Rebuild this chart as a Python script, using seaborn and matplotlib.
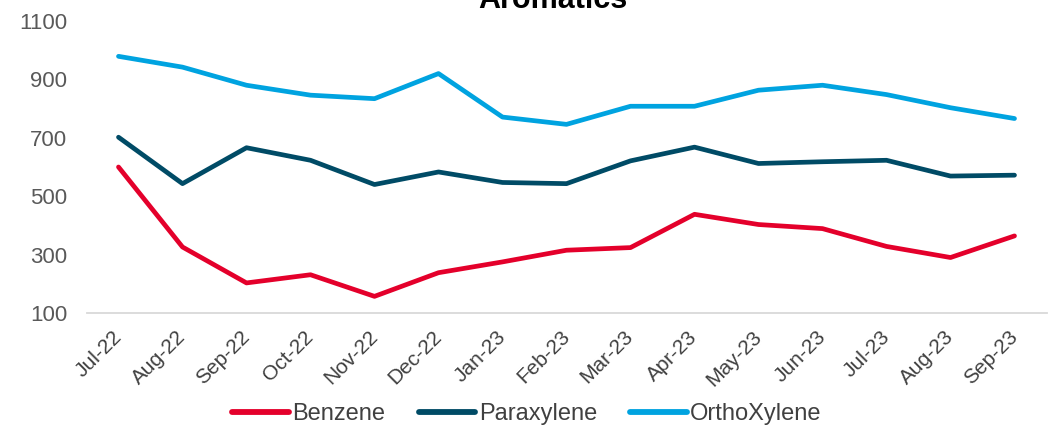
import matplotlib
matplotlib.use("Agg")
import matplotlib.pyplot as plt
import seaborn as sns
import pandas as pd
import numpy as np

months = ["Jul-22", "Aug-22", "Sep-22", "Oct-22", "Nov-22", "Dec-22", "Jan-23",
          "Feb-23", "Mar-23", "Apr-23", "May-23", "Jun-23", "Jul-23", "Aug-23", "Sep-23"]
benzene = [600, 326, 203, 231, 157, 238, 275, 315, 324, 438, 403, 389, 328, 290, 364]
paraxylene = [702, 543, 666, 623, 540, 583, 547, 543, 621, 668, 612, 618, 623, 569, 572]
orthoxylene = [979, 942, 880, 846, 834, 920, 771, 746, 808, 808, 863, 880, 848, 803, 766]
series_names = ["Benzene", "Paraxylene", "OrthoXylene"]
colors = ["#E4002B", "#004B66", "#00A3E0"]

rows = []
for name, vals in zip(series_names, [benzene, paraxylene, orthoxylene]):
    for i, v in enumerate(vals):
        rows.append({"idx": i, "value": v, "series": name})
df = pd.DataFrame(rows)

sns.set_theme(style="white")
plt.rcParams["font.family"] = ["Liberation Sans", "DejaVu Sans"]

fig = plt.figure(figsize=(10.48, 4.28), dpi=100)
ax = fig.add_axes([86.5 / 1048, 1 - 313 / 428, (1046.5 - 86.5) / 1048, 292 / 428])

sns.lineplot(data=df, x="idx", y="value", hue="series", hue_order=series_names,
             palette=colors, linewidth=3.4, ax=ax, legend=False)

ax.set_xlim(-0.5, len(months) - 0.5)
ax.set_ylim(100, 1100)
ax.set_yticks(np.arange(100, 1101, 200))
ax.set_xticks(range(len(months)))
ax.set_xticklabels(months, rotation=45, ha="right", va="center",
                   rotation_mode="anchor", fontsize=15, color="#404040")
ax.set_xticks(np.arange(-0.5, len(months), 1), minor=True)
ax.tick_params(axis="x", which="major", length=0, pad=15)
ax.tick_params(axis="x", which="minor", length=6, color="#D9D9D9", width=1.3, direction="out")
ax.tick_params(axis="y", length=0, labelsize=16, labelcolor="#595959", pad=14)
ax.set_xlabel("")
ax.set_ylabel("")
for s in ["top", "right", "left"]:
    ax.spines[s].set_visible(False)
ax.spines["bottom"].set_color("#D9D9D9")
ax.spines["bottom"].set_linewidth(1.3)
ax.grid(False)

fig.text(553 / 1048, 1 - 8.5 / 428, "Aromatics", ha="center", va="baseline",
         fontsize=22, fontweight="bold", color="black")

from matplotlib.lines import Line2D
handles = [Line2D([], [], color=c, linewidth=4.2, solid_capstyle="round") for c in colors]
leg = fig.legend(handles, series_names, loc="center", bbox_to_anchor=(527 / 1048, 1 - 414 / 428),
                 ncol=3, frameon=False, fontsize=17, handlelength=2.4, handletextpad=0.15,
                 columnspacing=1.4, labelcolor="#404040")

fig.savefig("out.png", dpi=100)
